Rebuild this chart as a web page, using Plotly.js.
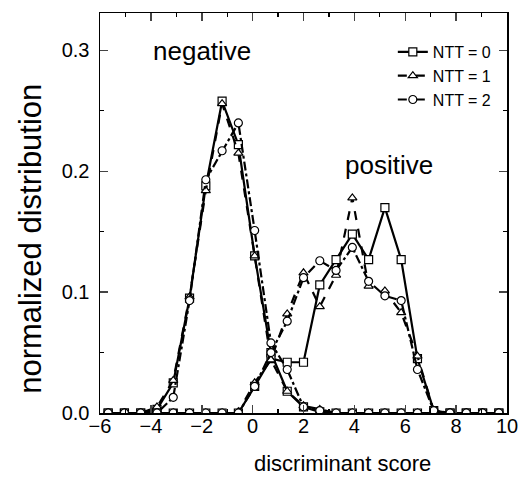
<!DOCTYPE html>
<html>
<head>
<meta charset="utf-8">
<script src="https://cdn.plot.ly/plotly-3.0.1.min.js"></script>
<style>html,body{margin:0;padding:0;background:#fff;}#chart{width:519px;height:481px;}</style>
</head>
<body>
<div id="chart"></div>
<script>
// bin centers (discriminant score)
const scores = [-5.68,-5.04,-4.40,-3.76,-3.12,-2.48,-1.84,-1.20,-0.56,0.08,0.72,1.36,2.00,2.64,3.28,3.92,4.56,5.20,5.84,6.48,7.12,7.76,8.40,9.04,9.68];

// negative distributions
const neg0 = [0,0,0,0.003,0.025,0.095,0.188,0.258,0.222,0.130,0.050,0.018,0.005,0.001,0,0,0,0,0,0,0,0,0,0,0];
const neg1 = [0,0,0,0.005,0.027,0.096,0.184,0.256,0.215,0.130,0.044,0.018,0.006,0.003,0,0,0,0,0,0,0,0,0,0,0];
const neg2 = [0,0,0,0.000,0.013,0.093,0.193,0.217,0.240,0.151,0.058,0.036,0.005,0.002,0,0,0,0,0,0,0,0,0,0,0];

// positive distributions
const pos0 = [0,0,0,0,0,0,0,0,0.000,0.022,0.045,0.042,0.042,0.106,0.127,0.148,0.127,0.170,0.127,0.045,0.002,0,0,0,0];
const pos1 = [0,0,0,0,0,0,0,0,0.001,0.025,0.044,0.082,0.116,0.088,0.114,0.178,0.105,0.101,0.083,0.047,0.002,0,0,0,0];
const pos2 = [0,0,0,0,0,0,0,0,0.000,0.022,0.050,0.076,0.112,0.126,0.118,0.137,0.109,0.097,0.093,0.036,0.002,0,0,0,0];

const names = ['NTT = 0','NTT = 1','NTT = 2'];
const symbols = ['square','triangle-up','circle'];
const dashes = ['solid','dash','dashdot'];
const negSeries = [neg0, neg1, neg2];
const posSeries = [pos0, pos1, pos2];

const traces = [];
for (let i = 0; i < 3; i++) {
  const mk = () => ({
    mode: 'lines+markers',
    line: {color: '#000', width: 2.2, dash: dashes[i]},
    marker: {symbol: symbols[i], size: 8, color: '#fff', line: {color: '#000', width: 1.2}},
    legendgroup: 'g' + i,
    hoverinfo: 'skip'
  });
  traces.push(Object.assign({x: scores, y: negSeries[i], name: names[i], showlegend: true}, mk()));
  traces.push(Object.assign({x: scores, y: posSeries[i], name: names[i], showlegend: false}, mk()));
}

const fam = 'Liberation Sans, Arial, sans-serif';
const f = (s) => ({family: fam, size: s, color: '#000'});
const layout = {
  width: 519, height: 481,
  margin: {l: 100, r: 12, t: 13, b: 68},
  paper_bgcolor: '#fff', plot_bgcolor: '#fff',
  showlegend: true,
  legend: {x: 0.975, y: 0.945, xanchor: 'right', yanchor: 'top', bgcolor: 'rgba(0,0,0,0)',
           font: f(16), tracegroupgap: 0},
  xaxis: {
    range: [-6, 10], dtick: 2, tick0: -6, ticks: 'inside', ticklen: 8, tickwidth: 1.5,
    showline: true, linecolor: '#000', linewidth: 1.5, mirror: 'ticks', zeroline: false, showgrid: false,
    tickfont: f(20), ticklabelstandoff: -6,
    minor: {dtick: 1, ticks: 'inside', ticklen: 4, tickwidth: 1.2, tickcolor: '#000', showgrid: false}
  },
  yaxis: {
    range: [0, 0.331], dtick: 0.1, tick0: 0, ticks: 'inside', ticklen: 8, tickwidth: 1.5,
    tickformat: '.1f',
    showline: true, linecolor: '#000', linewidth: 1.5, mirror: 'ticks', zeroline: false, showgrid: false,
    tickfont: f(20), ticklabelstandoff: 5,
    minor: {dtick: 0.05, ticks: 'inside', ticklen: 4, tickwidth: 1.2, tickcolor: '#000', showgrid: false}
  },
  annotations: [
    {x: -2.0, y: 0.2995, xref: 'x', yref: 'y', text: 'negative', showarrow: false, font: f(26)},
    {x: 5.35, y: 0.205, xref: 'x', yref: 'y', text: 'positive', showarrow: false, font: f(26)},
    {x: 0.595, y: -0.125, xref: 'paper', yref: 'paper', text: 'discriminant score', showarrow: false,
     xanchor: 'center', yanchor: 'middle', font: f(22)},
    {x: -0.17, y: 0.435, xref: 'paper', yref: 'paper', text: 'normalized distribution', showarrow: false,
     textangle: -90, xanchor: 'center', yanchor: 'middle', font: f(31)}
  ]
};

Plotly.newPlot('chart', traces, layout, {displayModeBar: false, staticPlot: true});
</script>
</body>
</html>
